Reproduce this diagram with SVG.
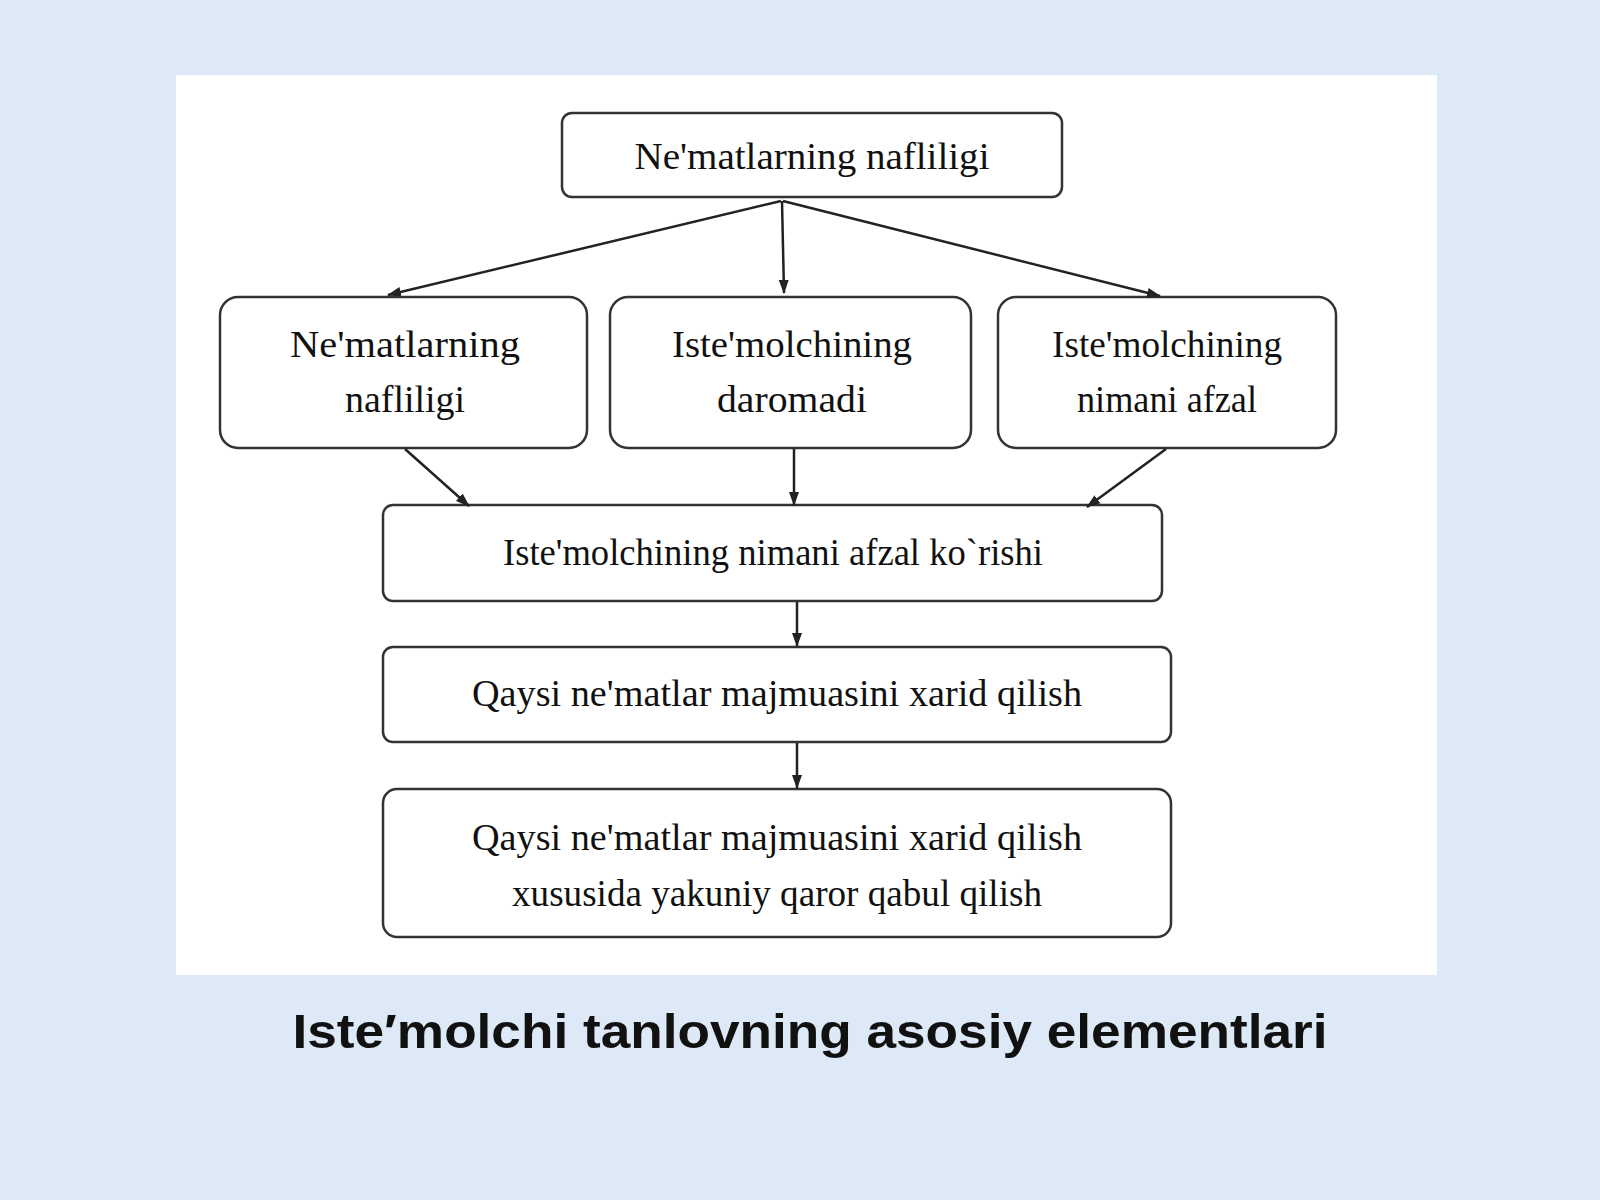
<svg xmlns="http://www.w3.org/2000/svg" width="1600" height="1200" viewBox="0 0 1600 1200">
<defs>
<marker id="ah" markerWidth="14" markerHeight="14" refX="13" refY="6" orient="auto" markerUnits="userSpaceOnUse"><path d="M0,1 L14,6 L0,11 z" fill="#222"/></marker>
<style>
.box{fill:#fff;stroke:#333;stroke-width:2.5}
.t{font-family:"Liberation Serif",serif;font-size:38px;fill:#111;text-anchor:middle}
.c{stroke:#222;stroke-width:2.5;fill:none;marker-end:url(#ah)}
</style>
</defs>
<rect width="1600" height="1200" fill="#dde9f6"/>
<rect x="176" y="75" width="1261" height="900" fill="#fff"/>
<g id="n1"><rect class="box" x="562" y="113" width="500" height="84" rx="10"/><text class="t" x="812" y="169" textLength="355" lengthAdjust="spacingAndGlyphs">Ne'matlarning nafliligi</text></g>
<g id="n2"><rect class="box" x="220" y="297" width="367" height="151" rx="18"/><text class="t" x="405" y="357" textLength="230" lengthAdjust="spacingAndGlyphs">Ne'matlarning</text><text class="t" x="405" y="412" textLength="120" lengthAdjust="spacingAndGlyphs">nafliligi</text></g>
<g id="n3"><rect class="box" x="610" y="297" width="361" height="151" rx="18"/><text class="t" x="792" y="357" textLength="240" lengthAdjust="spacingAndGlyphs">Iste'molchining</text><text class="t" x="792" y="412" textLength="150" lengthAdjust="spacingAndGlyphs">daromadi</text></g>
<g id="n4"><rect class="box" x="998" y="297" width="338" height="151" rx="18"/><text class="t" x="1167" y="357" textLength="230" lengthAdjust="spacingAndGlyphs">Iste'molchining</text><text class="t" x="1167" y="412" textLength="180" lengthAdjust="spacingAndGlyphs">nimani afzal</text></g>
<g id="n5"><rect class="box" x="383" y="505" width="779" height="96" rx="10"/><text class="t" x="773" y="565" textLength="540" lengthAdjust="spacingAndGlyphs">Iste'molchining nimani afzal ko`rishi</text></g>
<g id="n6"><rect class="box" x="383" y="647" width="788" height="95" rx="10"/><text class="t" x="777" y="706" textLength="610" lengthAdjust="spacingAndGlyphs">Qaysi  ne'matlar  majmuasini xarid  qilish</text></g>
<g id="n7"><rect class="box" x="383" y="789" width="788" height="148" rx="14"/><text class="t" x="777" y="850" textLength="610" lengthAdjust="spacingAndGlyphs">Qaysi  ne'matlar  majmuasini xarid  qilish</text><text class="t" x="777" y="906" textLength="530" lengthAdjust="spacingAndGlyphs">xususida yakuniy qaror qabul  qilish</text></g>
<g id="connectors">
<line class="c" x1="781" y1="201" x2="388" y2="295"/>
<line class="c" x1="782" y1="201" x2="784" y2="293"/>
<line class="c" x1="783" y1="201" x2="1160" y2="296"/>
<line class="c" x1="405" y1="449" x2="469" y2="506"/>
<line class="c" x1="794" y1="449" x2="794" y2="505"/>
<line class="c" x1="1166" y1="449" x2="1087" y2="507"/>
<line class="c" x1="797" y1="602" x2="797" y2="646"/>
<line class="c" x1="797" y1="743" x2="797" y2="788"/>
</g>
<text x="810" y="1048" font-family="Liberation Sans,sans-serif" font-weight="bold" font-size="48" text-anchor="middle" fill="#111" textLength="1035" lengthAdjust="spacingAndGlyphs">Iste′molchi tanlovning asosiy elementlari</text>
</svg>
